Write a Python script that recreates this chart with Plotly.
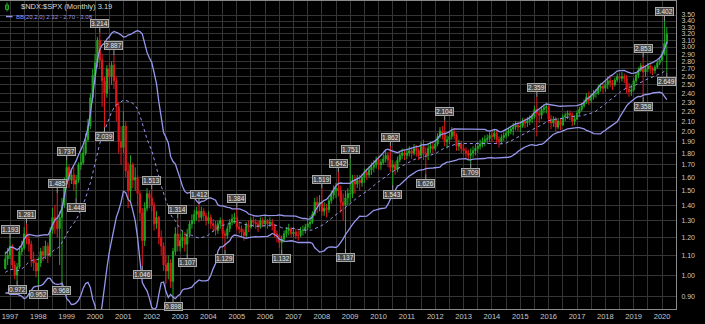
import numpy as np
import pandas as pd
import plotly.graph_objects as go

# ---------------- data ----------------
months = pd.period_range("1996-11", "2020-03", freq="M").strftime("%Y-%m").tolist()

# closes before the first visible bar (Mar 1995 - Oct 1996), only used to seed the 20-month bands
warmup_close = [0.95, 0.97, 1.00, 1.04, 1.08, 1.10, 1.06, 1.02, 0.98, 0.95,
                0.93, 0.94, 0.97, 1.00, 1.04, 1.07, 1.02, 0.98, 1.00, 1.03]

close = [
    1.08, 1.10,
    1.15, 1.05, 1.00, 1.04, 1.12, 1.14, 1.22, 1.19, 1.16, 1.08, 1.06, 1.02,
    1.06, 1.12, 1.10, 1.15, 1.10, 1.24, 1.32, 1.30, 1.25, 1.32, 1.40, 1.55,
    1.68, 1.58, 1.62, 1.55, 1.58, 1.70, 1.72, 1.80, 1.92, 2.05, 2.35, 2.62,
    2.78, 3.10, 2.82, 2.55, 2.40, 2.70, 2.60, 2.75, 2.55, 2.25, 1.90, 1.85,
    2.05, 1.65, 1.50, 1.70, 1.58, 1.60, 1.48, 1.35, 1.18, 1.38, 1.48, 1.45,
    1.40, 1.28, 1.32, 1.20, 1.15, 1.05, 1.02, 1.06, 0.97, 1.12, 1.22, 1.15,
    1.18, 1.20, 1.16, 1.22, 1.28, 1.30, 1.34, 1.36, 1.32, 1.36, 1.33, 1.30,
    1.32, 1.28, 1.27, 1.24, 1.28, 1.30, 1.22, 1.21, 1.25, 1.29, 1.31, 1.32,
    1.26, 1.25, 1.23, 1.21, 1.27, 1.26, 1.30, 1.29, 1.28, 1.26, 1.30, 1.28,
    1.30, 1.28, 1.29, 1.27, 1.22, 1.21, 1.17, 1.19, 1.22, 1.24, 1.25, 1.22,
    1.23, 1.21, 1.21, 1.24, 1.24, 1.26, 1.28, 1.29, 1.34, 1.42, 1.40, 1.42,
    1.36, 1.38, 1.37, 1.43, 1.47, 1.50, 1.52, 1.50, 1.42, 1.40, 1.45, 1.48,
    1.48, 1.58, 1.55, 1.58, 1.56, 1.60, 1.64, 1.62, 1.66, 1.68, 1.70, 1.74,
    1.70, 1.72, 1.75, 1.78, 1.74, 1.68, 1.70, 1.66, 1.74, 1.78, 1.80, 1.78,
    1.80, 1.82, 1.80, 1.84, 1.82, 1.78, 1.86, 1.80, 1.78, 1.84, 1.86, 1.84,
    1.88, 1.95, 2.00, 1.98, 1.90, 1.92, 1.95, 2.00, 1.96, 1.86, 1.88, 1.84,
    1.82, 1.80, 1.78, 1.80, 1.82, 1.84, 1.86, 1.88, 1.90, 1.92, 1.93, 1.96,
    1.95, 1.98, 1.92, 1.90, 1.94, 1.96, 1.98, 2.00, 2.02, 2.04, 2.06, 2.04,
    2.05, 2.10, 2.08, 2.10, 2.12, 2.14, 2.22, 2.18, 2.16, 2.22, 2.24, 2.25,
    2.12, 2.08, 2.12, 2.04, 2.10, 2.06, 2.14, 2.16, 2.18, 2.16, 2.10, 2.12,
    2.18, 2.22, 2.26, 2.30, 2.36, 2.32, 2.36, 2.40, 2.40, 2.46, 2.48, 2.46,
    2.50, 2.55, 2.52, 2.50, 2.56, 2.60, 2.58, 2.60, 2.58, 2.45, 2.42, 2.44,
    2.55, 2.62, 2.68, 2.74, 2.66, 2.70, 2.74, 2.70, 2.68, 2.72, 2.78, 2.82,
    2.90, 3.05, 3.19,
]

high = [
    1.12, 1.14,
    1.193, 1.16, 1.07, 1.06, 1.15, 1.18, 1.26, 1.281, 1.22, 1.18, 1.12, 1.08,
    1.09, 1.14, 1.15, 1.18, 1.17, 1.26, 1.38, 1.40, 1.485, 1.36, 1.45, 1.60,
    1.737, 1.70, 1.66, 1.68, 1.62, 1.72, 1.80, 1.86, 1.98, 2.12, 2.40, 2.70,
    2.90, 3.15, 3.214, 2.90, 2.60, 2.75, 2.78, 2.80, 2.887, 2.60, 2.30, 2.05,
    2.20, 2.10, 1.72, 1.78, 1.72, 1.68, 1.62, 1.50, 1.38, 1.42, 1.52, 1.50,
    1.513, 1.42, 1.36, 1.33, 1.24, 1.17, 1.10, 1.10, 1.08, 1.14, 1.26, 1.314,
    1.22, 1.24, 1.23, 1.25, 1.30, 1.34, 1.37, 1.39, 1.412, 1.39, 1.38, 1.35,
    1.36, 1.34, 1.31, 1.30, 1.30, 1.32, 1.31, 1.24, 1.27, 1.31, 1.34, 1.35,
    1.384, 1.29, 1.27, 1.25, 1.29, 1.30, 1.32, 1.33, 1.31, 1.30, 1.32, 1.32,
    1.33, 1.31, 1.32, 1.31, 1.28, 1.24, 1.22, 1.21, 1.24, 1.26, 1.28, 1.26,
    1.26, 1.25, 1.24, 1.26, 1.27, 1.28, 1.31, 1.33, 1.36, 1.45, 1.46, 1.47,
    1.519, 1.42, 1.41, 1.45, 1.50, 1.54, 1.56, 1.642, 1.54, 1.48, 1.50, 1.52,
    1.751, 1.62, 1.62, 1.62, 1.62, 1.63, 1.67, 1.67, 1.69, 1.72, 1.74, 1.77,
    1.77, 1.75, 1.79, 1.82, 1.81, 1.862, 1.74, 1.73, 1.77, 1.81, 1.84, 1.83,
    1.84, 1.86, 1.85, 1.88, 1.87, 1.84, 1.90, 1.92, 1.85, 1.88, 1.90, 1.90,
    1.92, 1.98, 2.04, 2.05, 2.104, 1.96, 1.99, 2.04, 2.03, 1.98, 1.92, 1.91,
    1.88, 1.85, 1.83, 1.84, 1.86, 1.88, 1.90, 1.92, 1.94, 1.96, 1.97, 1.99,
    2.00, 2.02, 2.01, 1.95, 1.97, 1.99, 2.02, 2.03, 2.05, 2.08, 2.10, 2.09,
    2.10, 2.13, 2.13, 2.14, 2.16, 2.18, 2.26, 2.359, 2.22, 2.26, 2.28, 2.29,
    2.27, 2.16, 2.15, 2.14, 2.13, 2.13, 2.17, 2.19, 2.21, 2.21, 2.19, 2.16,
    2.21, 2.25, 2.29, 2.33, 2.40, 2.42, 2.40, 2.44, 2.45, 2.50, 2.52, 2.52,
    2.55, 2.60, 2.62, 2.56, 2.59, 2.64, 2.65, 2.66, 2.64, 2.62, 2.52, 2.50,
    2.58, 2.65, 2.72, 2.78, 2.853, 2.74, 2.78, 2.77, 2.73, 2.75, 2.81, 2.86,
    2.95, 3.402, 3.30,
]

low = [
    1.03, 1.05,
    1.08, 1.03, 0.98, 0.972, 1.03, 1.10, 1.13, 1.16, 1.12, 1.04, 1.02, 0.99,
    0.952, 1.04, 1.07, 1.08, 1.06, 1.09, 1.22, 1.22, 1.20, 1.05, 0.968, 1.38,
    1.52, 1.52, 1.55, 1.50, 1.448, 1.56, 1.66, 1.70, 1.78, 1.90, 2.02, 2.30,
    2.50, 2.72, 2.70, 2.25, 2.039, 2.35, 2.45, 2.50, 2.45, 2.10, 1.80, 1.70,
    1.80, 1.60, 1.38, 1.42, 1.52, 1.50, 1.40, 1.30, 1.046, 1.15, 1.36, 1.38,
    1.36, 1.24, 1.25, 1.16, 1.10, 1.02, 0.96, 0.98, 0.94, 0.898, 1.10, 1.12,
    1.12, 1.14, 1.12, 1.107, 1.20, 1.25, 1.28, 1.30, 1.29, 1.30, 1.30, 1.27,
    1.28, 1.25, 1.23, 1.21, 1.22, 1.25, 1.19, 1.129, 1.19, 1.23, 1.27, 1.28,
    1.24, 1.22, 1.20, 1.18, 1.20, 1.23, 1.25, 1.26, 1.25, 1.23, 1.25, 1.26,
    1.26, 1.25, 1.26, 1.24, 1.20, 1.17, 1.14, 1.132, 1.17, 1.20, 1.21, 1.20,
    1.20, 1.19, 1.18, 1.20, 1.21, 1.22, 1.24, 1.25, 1.28, 1.33, 1.35, 1.36,
    1.33, 1.33, 1.32, 1.35, 1.41, 1.44, 1.45, 1.46, 1.35, 1.30, 1.137, 1.40,
    1.42, 1.45, 1.48, 1.52, 1.50, 1.53, 1.56, 1.58, 1.60, 1.62, 1.64, 1.67,
    1.66, 1.66, 1.70, 1.72, 1.68, 1.64, 1.543, 1.62, 1.64, 1.72, 1.75, 1.74,
    1.75, 1.77, 1.75, 1.78, 1.77, 1.74, 1.76, 1.74, 1.626, 1.74, 1.80, 1.80,
    1.82, 1.86, 1.93, 1.92, 1.86, 1.84, 1.88, 1.92, 1.92, 1.82, 1.82, 1.80,
    1.78, 1.76, 1.74, 1.709, 1.76, 1.78, 1.80, 1.83, 1.85, 1.86, 1.88, 1.90,
    1.90, 1.92, 1.88, 1.85, 1.88, 1.91, 1.93, 1.95, 1.97, 1.96, 2.01, 2.00,
    1.99, 2.03, 2.03, 2.04, 2.06, 2.08, 2.12, 1.95, 2.08, 2.12, 2.18, 2.18,
    2.08, 2.02, 2.04, 2.00, 2.02, 2.01, 2.05, 2.10, 2.12, 2.11, 2.05, 2.06,
    2.11, 2.16, 2.20, 2.24, 2.28, 2.27, 2.29, 2.33, 2.35, 2.38, 2.42, 2.40,
    2.42, 2.45, 2.47, 2.44, 2.48, 2.53, 2.52, 2.54, 2.52, 2.40, 2.36, 2.37,
    2.42, 2.52, 2.58, 2.66, 2.358, 2.60, 2.66, 2.64, 2.62, 2.64, 2.70, 2.75,
    2.80, 2.88, 2.649,
]

marked_highs = ["1997-01", "1997-08", "1998-09", "1999-01", "2000-03", "2000-09",
                "2002-01", "2002-12", "2003-09", "2005-01", "2008-01", "2008-08",
                "2009-01", "2010-06", "2012-05", "2015-08", "2019-05", "2020-02"]
marked_lows = ["1997-04", "1998-01", "1998-11", "1999-05", "2000-05", "2001-09",
               "2002-10", "2003-04", "2004-08", "2006-08", "2008-11", "2010-07",
               "2011-09", "2013-04", "2019-05", "2020-03"]

year_labels = [str(y) for y in range(1997, 2021)]
price_ticks = [0.90, 1.00, 1.10, 1.20, 1.30, 1.40, 1.50, 1.60, 1.70, 1.80, 1.90, 2.00,
               2.10, 2.20, 2.30, 2.40, 2.50, 2.60, 2.70, 2.80, 2.90, 3.00, 3.10, 3.20,
               3.30, 3.40, 3.50]

title_text = "$NDX:$SPX (Monthly) 3.19"
bb_text = "BB(20,2.0) 2.32 - 2.70 - 3.08"

assert len(close) == len(high) == len(low) == len(months)

# ---------------- derived ----------------
open_ = [warmup_close[-1]] + close[:-1]
full = pd.Series(warmup_close + close)
mid = full.rolling(20).mean().iloc[len(warmup_close):].tolist()
sd = full.rolling(20).std(ddof=0).iloc[len(warmup_close):].tolist()
upper = [m + 2 * s for m, s in zip(mid, sd)]
lower = [m - 2 * s for m, s in zip(mid, sd)]

# ---------------- layout geometry ----------------
W, H = 705, 324
PL, PR, PT, PB = 0, 676, 1, 309
BAR_PX = 28.35 / 12.0
X0_PX = 10 + BAR_PX * (-2)     # pixel of the first category (Nov 1996)
xr = [(PL - X0_PX) / BAR_PX, (PR - X0_PX) / BAR_PX]
yr = [-0.0710, 0.5734]

def paper(px, py):
    return (px - PL) / (PR - PL), (PB - py) / (PB - PT)

FONT = "Liberation Sans, Arial, sans-serif"
GREEN = "#22a822"
RED = "#e3191c"
BBC = "#9797ee"

fig = go.Figure()
fig.add_trace(go.Candlestick(
    x=months, open=open_, high=high, low=low, close=close,
    increasing=dict(line=dict(color=GREEN, width=1), fillcolor=GREEN),
    decreasing=dict(line=dict(color=RED, width=1), fillcolor=RED),
    whiskerwidth=0, showlegend=False, hoverinfo="skip"))
fig.add_trace(go.Scatter(x=months, y=mid, mode="lines",
                         line=dict(color=BBC, width=1, dash="dot"), showlegend=False))
fig.add_trace(go.Scatter(x=months, y=upper, mode="lines",
                         line=dict(color=BBC, width=1.3), showlegend=False))
fig.add_trace(go.Scatter(x=months, y=lower, mode="lines",
                         line=dict(color=BBC, width=1.3), showlegend=False))

tickvals_x, ticktext_x = [], []
for y in year_labels:
    tickvals_x += [f"{y}-01", f"{y}-07"]
    ticktext_x += [y, ""]

annotations = []
idx = {m: i for i, m in enumerate(months)}
LABEL_FONT = dict(family=FONT, size=6.5, color="#e8e8e8")
for m in marked_highs:
    v = high[idx[m]]
    annotations.append(dict(x=m, y=np.log10(v), xref="x", yref="y", text=f"{v:.3f}",
                            showarrow=True, arrowhead=0, arrowwidth=1, arrowcolor="#a0a0a0",
                            ax=0, ay=-9, font=LABEL_FONT,
                            bgcolor="#484848", bordercolor="#a8a8a8", borderwidth=1, borderpad=0))
for m in marked_lows:
    v = low[idx[m]]
    annotations.append(dict(x=m, y=np.log10(v), xref="x", yref="y", text=f"{v:.3f}",
                            showarrow=True, arrowhead=0, arrowwidth=1, arrowcolor="#a0a0a0",
                            ax=0, ay=9, font=LABEL_FONT,
                            bgcolor="#484848", bordercolor="#a8a8a8", borderwidth=1, borderpad=0))

tx, ty = paper(19, 7)
annotations.append(dict(x=tx, y=ty, xref="paper", yref="paper", xanchor="left", yanchor="middle",
                        text=title_text, showarrow=False,
                        font=dict(family=FONT, size=7.5, color="#dcdcdc")))
bx, by = paper(14, 16.5)
annotations.append(dict(x=bx, y=by, xref="paper", yref="paper", xanchor="left", yanchor="middle",
                        text=bb_text, showarrow=False,
                        font=dict(family=FONT, size=6, color=BBC)))

shapes = []
# small candle icon before the title
x1, y1 = paper(7, 2.5); x2, y2 = paper(7, 11.5)
shapes.append(dict(type="line", xref="paper", yref="paper", x0=x1, y0=y1, x1=x2, y1=y2,
                   line=dict(color=GREEN, width=1)))
a1, b1 = paper(5.5, 5); a2, b2 = paper(8.5, 9.5)
shapes.append(dict(type="rect", xref="paper", yref="paper", x0=a1, y0=b1, x1=a2, y1=b2,
                   line=dict(color=GREEN, width=1), fillcolor="rgba(0,0,0,0)"))
# line swatch for the band legend
l1, m1 = paper(6, 16.5); l2, m2 = paper(12.5, 16.5)
shapes.append(dict(type="line", xref="paper", yref="paper", x0=l1, y0=m1, x1=l2, y1=m2,
                   line=dict(color=BBC, width=1.5)))

fig.update_layout(
    width=W, height=H,
    margin=dict(l=PL, r=W - PR, t=PT, b=H - PB, pad=0),
    paper_bgcolor="#000000", plot_bgcolor="#000000",
    showlegend=False, hovermode=False,
    annotations=annotations, shapes=shapes,
    xaxis=dict(type="category", range=xr, rangeslider=dict(visible=False),
               tickmode="array", tickvals=tickvals_x, ticktext=ticktext_x,
               showgrid=True, gridcolor="#353535", gridwidth=1,
               showline=True, linecolor="#8a8a8a", linewidth=1, mirror=True,
               ticks="", tickfont=dict(family=FONT, size=7.5, color="#c8c8c8"),
               fixedrange=True),
    yaxis=dict(type="log", side="right", range=yr,
               tickmode="array", tickvals=price_ticks,
               ticktext=[f"{t:.2f}" for t in price_ticks],
               showgrid=True, gridcolor="#353535", gridwidth=1,
               showline=True, linecolor="#8a8a8a", linewidth=1, mirror=True,
               ticks="", ticklabelstandoff=3,
               tickfont=dict(family=FONT, size=7, color="#c8c8c8"),
               fixedrange=True),
)

fig.write_html("out.html")
